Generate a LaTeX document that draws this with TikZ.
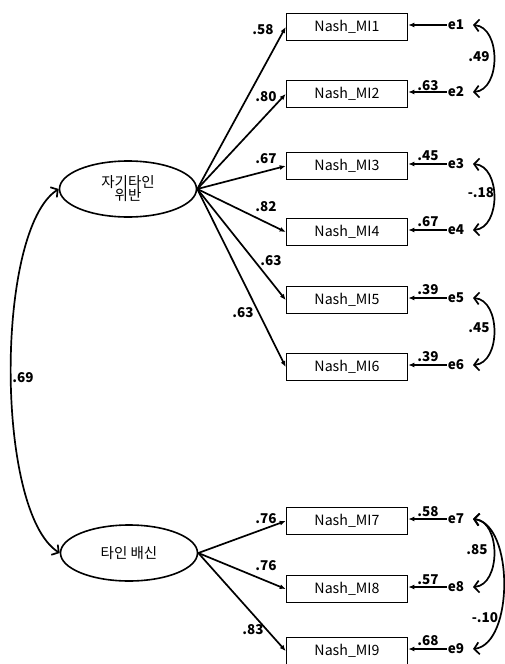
\documentclass[tikz,border=0pt]{standalone}
\usepackage{fontspec}
\setmainfont{Noto Sans CJK KR}
\usetikzlibrary{arrows.meta,shapes.geometric}
\begin{document}
\begin{tikzpicture}[x=1pt,y=-1pt,
  ind/.style={draw,line width=1.6pt,minimum width=121pt,minimum height=27pt,inner sep=0pt,font=\fontsize{14.2}{16}\selectfont},
  lat/.style={draw,ellipse,line width=1.6pt,minimum width=137pt,minimum height=56pt,inner sep=0pt,font=\fontsize{14.5}{16}\selectfont,align=center},
  err/.style={inner sep=1pt,font=\bfseries\fontsize{13.5}{15}\selectfont},
  lbl/.style={inner sep=0pt,font=\bfseries\fontsize{13.5}{15}\selectfont},
  load/.style={line width=1.7pt,-{Latex[length=6pt,width=5pt]}},
  cov/.style={line width=1.7pt,{Straight Barb[length=5pt,width=12pt]}-{Straight Barb[length=5pt,width=12pt]}}
]
\useasboundingbox (0,0) rectangle (505,664);
% latent variables
\node[lat] (f1) at (128,189) {자기타인\\[-3pt]위반};
\node[lat] (f2) at (129,553) {타인 배신};
% indicators
\node[ind] (m1) at (347,27) {Nash\_MI1};
\node[ind] (m2) at (347,94) {Nash\_MI2};
\node[ind] (m3) at (347,166) {Nash\_MI3};
\node[ind] (m4) at (347,232) {Nash\_MI4};
\node[ind] (m5) at (347,300) {Nash\_MI5};
\node[ind] (m6) at (347,367) {Nash\_MI6};
\node[ind] (m7) at (347,521) {Nash\_MI7};
\node[ind] (m8) at (347,589) {Nash\_MI8};
\node[ind] (m9) at (347,651) {Nash\_MI9};
% errors
\foreach \i/\y in {1/25,2/92,3/164,4/230,5/298,6/365,7/519,8/587,9/649}{
  \node[err] (e\i) at (456,\y) {e\i};
  \draw[load] (e\i.west) -- (m\i.east |- e\i.west);
}
% loadings
\foreach \i in {1,...,6}{\draw[load] (f1.east) -- (m\i.west);}
\foreach \i in {7,8,9}{\draw[load] (f2.east) -- (m\i.west);}
% loading labels
\node[lbl] at (263,30) {.58};
\node[lbl] at (266,97) {.80};
\node[lbl] at (266,159) {.67};
\node[lbl] at (266,207) {.82};
\node[lbl] at (271,261) {.63};
\node[lbl] at (243,313) {.63};
\node[lbl] at (266,519) {.76};
\node[lbl] at (266,566) {.76};
\node[lbl] at (253,630) {.83};
% residual labels
\node[lbl] at (428,86) {.63};
\node[lbl] at (428,156) {.45};
\node[lbl] at (428,222) {.67};
\node[lbl] at (428,290) {.39};
\node[lbl] at (428,357) {.39};
\node[lbl] at (428,512) {.58};
\node[lbl] at (428,580) {.57};
\node[lbl] at (428,641) {.68};
% error covariances
\coordinate (c1) at (473,25);
\coordinate (c2) at (473,92);
\coordinate (c3) at (473,164);
\coordinate (c4) at (473,230);
\coordinate (c5) at (473,298);
\coordinate (c6) at (473,365);
\coordinate (c7) at (473,519);
\coordinate (c8) at (473,587);
\coordinate (c9) at (473,649);
\draw[cov] (c1) .. controls (501,27) and (501,90) .. (c2);
\draw[cov] (c3) .. controls (501,166) and (501,228) .. (c4);
\draw[cov] (c5) .. controls (501,300) and (501,363) .. (c6);
\draw[cov] (c7) .. controls (501,521) and (501,585) .. (c8);
\draw[cov] (c7) .. controls (514,524) and (514,644) .. (c9);
\node[lbl] at (479,57) {.49};
\node[lbl] at (481,193) {-.18};
\node[lbl] at (479,328) {.45};
\node[lbl] at (477,550) {.85};
\node[lbl] at (485,618) {-.10};
% factor covariance
\draw[cov] (f1.west) .. controls (-5,230) and (-5,512) .. (f2.west);
\node[lbl] at (23,378) {.69};
\end{tikzpicture}
\end{document}
